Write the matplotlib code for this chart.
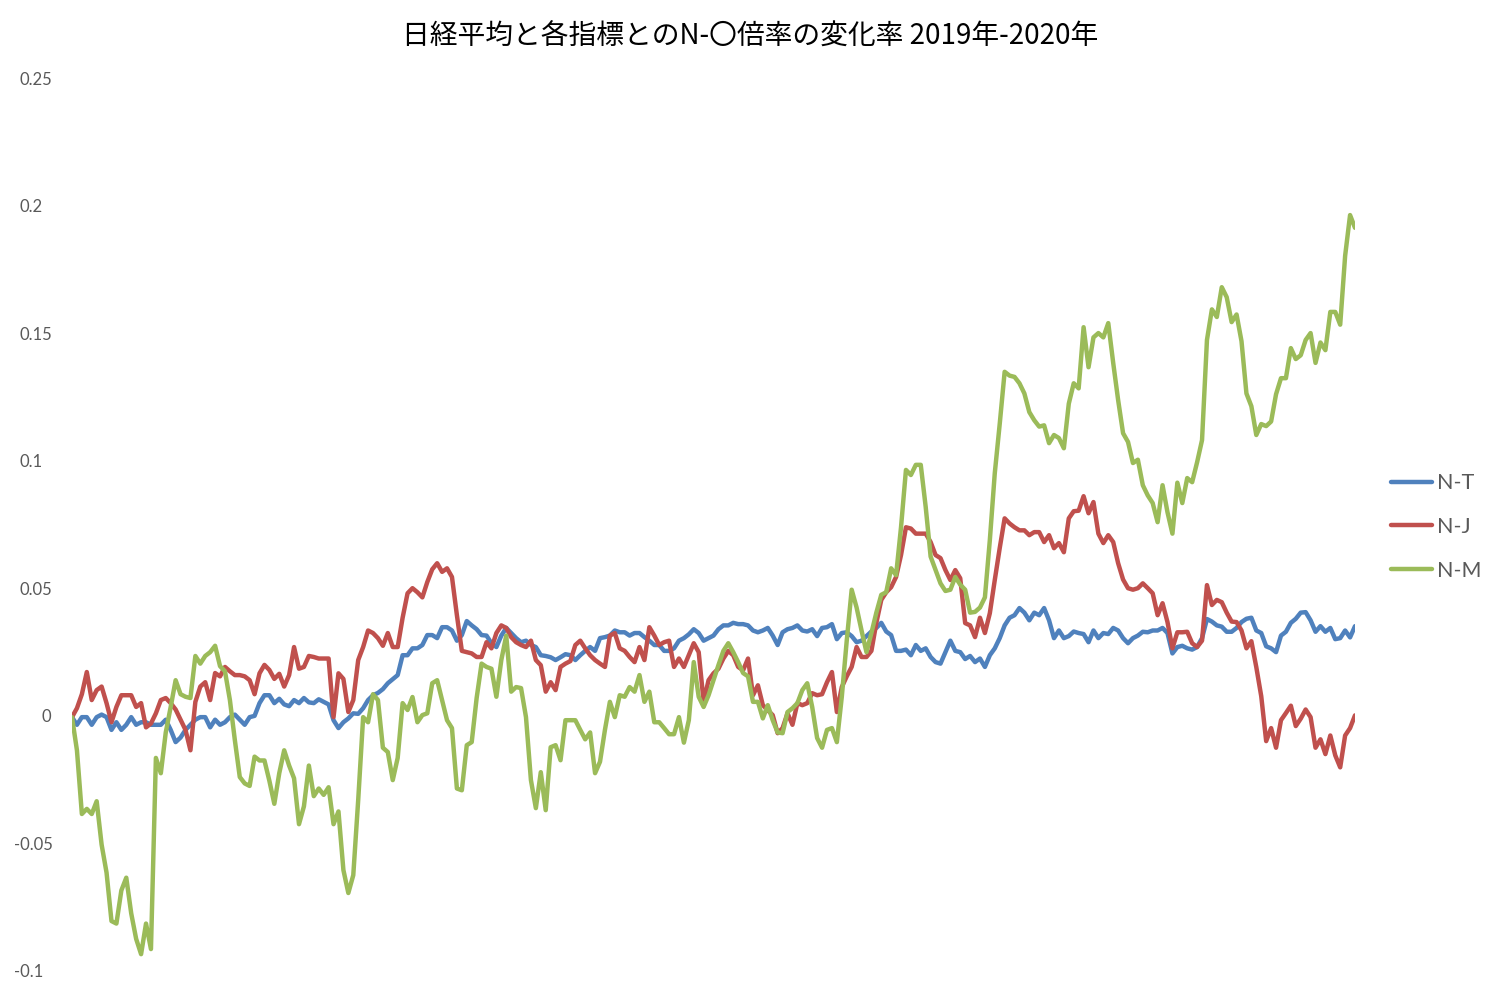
import matplotlib
matplotlib.use("Agg")
import matplotlib.pyplot as plt
import matplotlib.transforms as mtransforms
import numpy as np

title = "日経平均と各指標とのN-〇倍率の変化率 2019年-2020年"
series_names = ["N-T", "N-J", "N-M"]
ytick_values = [0.25, 0.2, 0.15, 0.1, 0.05, 0.0, -0.05, -0.1]
ytick_labels = ["0.25", "0.2", "0.15", "0.1", "0.05", "0", "-0.05", "-0.1"]

n_t = [0.0, -0.003, 0.0, 0.0, -0.003, 0.0, 0.001, 0.0, -0.005, -0.002,
       -0.005, -0.003, 0.0, -0.003, -0.002, -0.002, -0.003, -0.003, -0.003, -0.001,
       -0.005, -0.0098, -0.008, -0.005, -0.003, -0.001, 0.0, 0.0, -0.004, -0.001,
       -0.003, -0.002, 0.0, 0.001, -0.001, -0.003, 0.0, 0.0005, 0.0055, 0.0086,
       0.0086, 0.0055, 0.0072, 0.005, 0.0043, 0.0067, 0.0055, 0.0075, 0.0058, 0.0055,
       0.007, 0.006, 0.005, -0.0012, -0.0043, -0.002, -0.0005, 0.0015, 0.0013, 0.0035,
       0.0067, 0.0086, 0.0095, 0.011, 0.0133, 0.0149, 0.0165, 0.0243, 0.0243, 0.027,
       0.027, 0.0283, 0.0322, 0.0322, 0.031, 0.0353, 0.0353, 0.034, 0.030, 0.0322,
       0.0377, 0.036, 0.0345, 0.0322, 0.032, 0.029, 0.0275, 0.032, 0.035, 0.033,
       0.031, 0.0294, 0.030, 0.0283, 0.0275, 0.0243, 0.024, 0.0235, 0.0224, 0.0235,
       0.0247, 0.0243, 0.0224, 0.0243, 0.026, 0.0275, 0.026, 0.031, 0.0314, 0.032,
       0.034, 0.0333, 0.0333, 0.032, 0.033, 0.033, 0.0314, 0.030, 0.0283, 0.0283,
       0.026, 0.026, 0.027, 0.030, 0.031, 0.0325, 0.0345, 0.033, 0.030, 0.031,
       0.032, 0.0345, 0.036, 0.036, 0.037, 0.0365, 0.0365, 0.036, 0.034, 0.0333,
       0.034, 0.035, 0.032, 0.0283, 0.0333, 0.0345, 0.035, 0.036, 0.034, 0.0336,
       0.0345, 0.0318, 0.035, 0.0353, 0.0365, 0.0306, 0.033, 0.0333, 0.0318, 0.0294,
       0.030, 0.0318, 0.0336, 0.035, 0.037, 0.0336, 0.0322, 0.026, 0.026, 0.0265,
       0.0243, 0.0283, 0.026, 0.027, 0.0236, 0.0216, 0.021, 0.0255, 0.030, 0.026,
       0.0255, 0.0228, 0.024, 0.0216, 0.023, 0.0197, 0.0243, 0.027, 0.031, 0.036,
       0.039, 0.040, 0.0428, 0.041, 0.038, 0.041, 0.040, 0.0428, 0.038, 0.031,
       0.034, 0.031, 0.0318, 0.0336, 0.033, 0.0326, 0.0294, 0.034, 0.031, 0.033,
       0.0326, 0.035, 0.034, 0.031, 0.029, 0.031, 0.032, 0.0335, 0.0333, 0.034,
       0.034, 0.035, 0.033, 0.025, 0.0275, 0.028, 0.027, 0.0265, 0.0275, 0.031,
       0.0385, 0.0375, 0.036, 0.0355, 0.0335, 0.0335, 0.035, 0.0373, 0.0386, 0.039,
       0.034, 0.033, 0.0278, 0.027, 0.0255, 0.032, 0.0335, 0.037, 0.0386, 0.041,
       0.0412, 0.038, 0.0335, 0.0357, 0.0335, 0.035, 0.0306, 0.031, 0.034, 0.0313,
       0.0357]

n_j = [0.0, 0.0035, 0.009, 0.0177, 0.0067, 0.0106, 0.012, 0.0055, -0.002, 0.004,
       0.0086, 0.0086, 0.0086, 0.004, 0.0055, -0.004, -0.0025, 0.0015, 0.0067, 0.0075,
       0.0055, 0.003, -0.001, -0.005, -0.013, 0.006, 0.012, 0.0137, 0.0067, 0.0173,
       0.016, 0.0197, 0.018, 0.0165, 0.0165, 0.016, 0.0145, 0.009, 0.0172, 0.0205,
       0.0185, 0.015, 0.017, 0.012, 0.0165, 0.0275, 0.019, 0.0197, 0.024, 0.0236,
       0.023, 0.023, 0.023, 0.0, 0.0172, 0.015, 0.002, 0.0067, 0.0224, 0.0275,
       0.034, 0.033, 0.031, 0.028, 0.033, 0.0275, 0.0275, 0.039, 0.0486, 0.0506,
       0.049, 0.047, 0.053, 0.058, 0.0604, 0.057, 0.0584, 0.055, 0.040, 0.026,
       0.0255, 0.025, 0.0236, 0.0236, 0.0294, 0.027, 0.033, 0.036, 0.035, 0.0314,
       0.0294, 0.0283, 0.0275, 0.030, 0.0224, 0.0204, 0.010, 0.0137, 0.0106, 0.0197,
       0.021, 0.022, 0.0283, 0.030, 0.027, 0.0243, 0.0224, 0.021, 0.0197, 0.032,
       0.033, 0.027, 0.026, 0.0236, 0.0216, 0.0275, 0.0224, 0.0353, 0.032, 0.0283,
       0.0294, 0.030, 0.0197, 0.023, 0.0197, 0.0243, 0.029, 0.0255, 0.006, 0.0145,
       0.0172, 0.019, 0.023, 0.026, 0.0243, 0.0197, 0.0184, 0.023, 0.0086, 0.0125,
       0.0047, 0.0027, 0.0008, -0.0063, -0.0043, 0.0015, -0.003, 0.0055, 0.0047, 0.0055,
       0.0094, 0.0086, 0.009, 0.0137, 0.0177, 0.002, 0.0118, 0.016, 0.0197, 0.0275,
       0.0236, 0.0236, 0.026, 0.037, 0.046, 0.049, 0.051, 0.055, 0.0636, 0.0745,
       0.074, 0.072, 0.072, 0.072, 0.0687, 0.0636, 0.0624, 0.0577, 0.0538, 0.0577,
       0.0545, 0.0369, 0.036, 0.0314, 0.039, 0.033, 0.0408, 0.0538, 0.0663, 0.078,
       0.076, 0.0745, 0.0733, 0.0733, 0.0714, 0.0726, 0.0726, 0.0687, 0.0714, 0.0663,
       0.0683, 0.0647, 0.078, 0.0808, 0.081, 0.0867, 0.080, 0.0844, 0.072, 0.0683,
       0.0714, 0.0687, 0.0604, 0.054, 0.0506, 0.050, 0.0506, 0.0525, 0.0506, 0.0486,
       0.040, 0.0447, 0.0373, 0.027, 0.0333, 0.0333, 0.0335, 0.029, 0.0275, 0.030,
       0.0518, 0.044, 0.046, 0.0451, 0.041, 0.0375, 0.0373, 0.034, 0.027, 0.0298,
       0.0196, 0.0082, -0.0094, -0.0043, -0.012, -0.0012, 0.0016, 0.0045, -0.0035, -0.0006,
       0.003, 0.0, -0.012, -0.0087, -0.0145, -0.0072, -0.015, -0.0197, -0.0072, -0.0043,
       0.0007]

n_m = [0.0, -0.013, -0.038, -0.036, -0.038, -0.033, -0.050, -0.061, -0.080, -0.081,
       -0.068, -0.063, -0.077, -0.087, -0.093, -0.081, -0.091, -0.016, -0.022, -0.006,
       0.004, 0.0145, 0.009, 0.008, 0.0075, 0.024, 0.021, 0.024, 0.0255, 0.028,
       0.020, 0.018, 0.0067, -0.009, -0.0235, -0.026, -0.027, -0.0155, -0.017, -0.017,
       -0.025, -0.034, -0.022, -0.013, -0.019, -0.024, -0.042, -0.035, -0.019, -0.031,
       -0.028, -0.0305, -0.0275, -0.042, -0.037, -0.060, -0.069, -0.062, -0.0325, 0.0,
       -0.002, 0.009, 0.0067, -0.012, -0.0137, -0.0247, -0.016, 0.0055, 0.0028, 0.0079,
       -0.002, 0.0008, 0.0015, 0.0133, 0.0145, 0.0067, -0.0012, -0.0043, -0.028, -0.0287,
       -0.011, -0.0098, 0.0075, 0.021, 0.0197, 0.019, 0.008, 0.0224, 0.032, 0.010,
       0.0118, 0.0114, 0.0, -0.0247, -0.0357, -0.0216, -0.0365, -0.0118, -0.011, -0.0169,
       -0.0012, -0.0012, -0.0012, -0.005, -0.0087, -0.006, -0.022, -0.0175, -0.005, 0.006,
       0.0, 0.0086, 0.008, 0.0118, 0.010, 0.0165, 0.006, 0.010, -0.002, -0.002,
       -0.0043, -0.0067, -0.0067, 0.0, -0.010, -0.0012, 0.0216, 0.008, 0.004, 0.0086,
       0.0145, 0.0204, 0.026, 0.029, 0.0255, 0.0216, 0.0173, 0.016, 0.006, 0.006,
       -0.0005, 0.0047, -0.0012, -0.006, -0.0063, 0.002, 0.0035, 0.0055, 0.0106, 0.0133,
       0.004, -0.0082, -0.012, -0.005, -0.0043, -0.0098, 0.008, 0.030, 0.050, 0.043,
       0.034, 0.0255, 0.033, 0.041, 0.048, 0.049, 0.0584, 0.0557, 0.0745, 0.097,
       0.095, 0.099, 0.099, 0.0825, 0.063, 0.0577, 0.0525, 0.0495, 0.050, 0.055,
       0.052, 0.050, 0.041, 0.0413, 0.043, 0.047, 0.0695, 0.0957, 0.115, 0.1355,
       0.134, 0.1335, 0.131, 0.127, 0.1197, 0.1165, 0.114, 0.1145, 0.1075, 0.1107,
       0.1095, 0.1055, 0.123, 0.131, 0.129, 0.153, 0.1373, 0.149, 0.1507, 0.149,
       0.1546, 0.139, 0.1244, 0.1114, 0.108, 0.0997, 0.101, 0.091, 0.087, 0.084,
       0.0765, 0.091, 0.0804, 0.072, 0.092, 0.084, 0.0938, 0.0922, 0.100, 0.1087,
       0.148, 0.160, 0.157, 0.1687, 0.1648, 0.155, 0.158, 0.1475, 0.127, 0.122,
       0.1107, 0.115, 0.1142, 0.116, 0.1267, 0.133, 0.133, 0.1448, 0.1405, 0.142,
       0.148, 0.1507, 0.139, 0.147, 0.144, 0.159, 0.159, 0.154, 0.181, 0.197,
       0.192]

colors = ["#4F81BD", "#C0504D", "#9BBB59"]

plt.rcParams['font.family'] = ['Lato', 'Noto Sans CJK JP', 'DejaVu Sans']

W, H = 1500, 997
fig = plt.figure(figsize=(W / 100, H / 100), dpi=100)
fig.patch.set_facecolor("white")
x0, x1 = 72, 1355
ytop, ybot = 80, 972
ax = fig.add_axes([x0 / W, (H - ybot) / H, (x1 - x0) / W, (ybot - ytop) / H])
ax.set_facecolor("none")

for vals, name, c in zip([n_t, n_j, n_m], series_names, colors):
    ax.plot(np.arange(len(vals)), vals, color=c, lw=3.2, label=name,
            solid_joinstyle="round", solid_capstyle="round")

ax.set_xlim(0, len(n_t) - 1)
ax.set_ylim(-0.1, 0.25)
for s in ax.spines.values():
    s.set_visible(False)
ax.set_xticks([])
ax.set_yticks([])

# y tick labels placed like the reference (Excel-style placement)
lab_trans = mtransforms.blended_transform_factory(fig.transFigure, ax.transData)
for v, lab in zip(ytick_values, ytick_labels):
    if lab == "0":
        xl = 42
    elif lab.startswith("-"):
        xl = 14
    else:
        xl = 20
    fig.text(xl / W, v, lab, transform=lab_trans, ha="left", va="center",
             fontsize=12, color="#595959")

fig.text(750 / W, 1 - 37 / H, title, ha="center", va="center", fontsize=20,
         family=['Noto Sans CJK JP', 'DejaVu Sans'], color="#000000")

leg = ax.legend(loc="center left", bbox_to_anchor=(1380 / W, 1 - 527 / H),
                bbox_transform=fig.transFigure, frameon=False, fontsize=15.5,
                handlelength=1.9, handletextpad=0.25, labelspacing=1.1,
                borderpad=0.0, labelcolor="#595959")

fig.savefig("out.png", dpi=100, facecolor="white")
